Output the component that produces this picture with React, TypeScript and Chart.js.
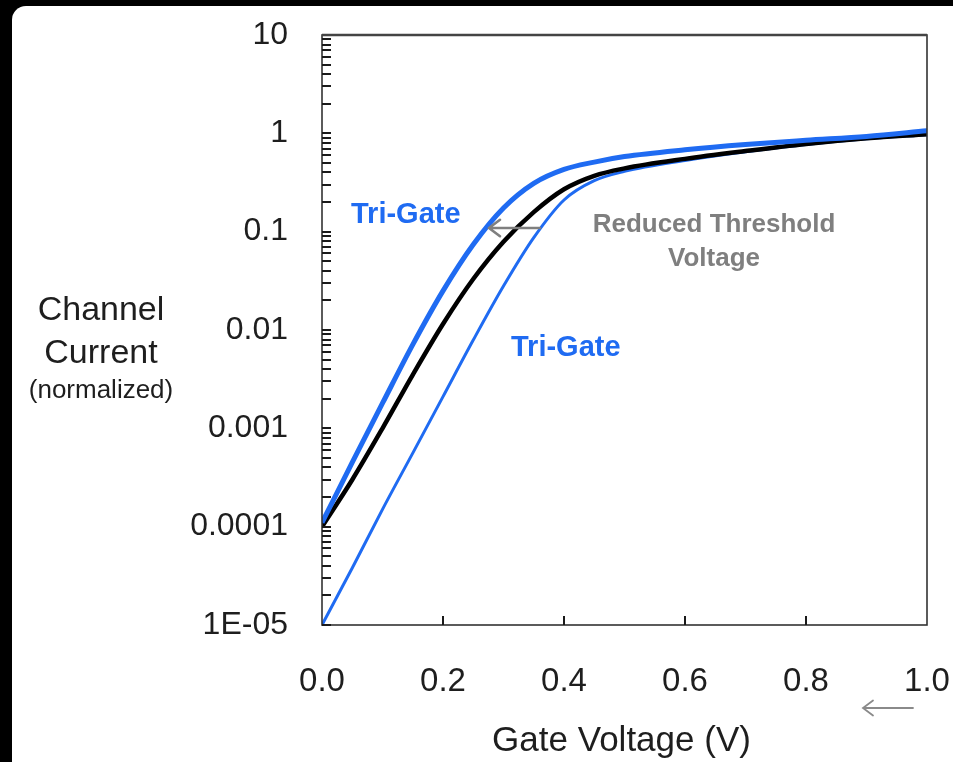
import React, { useEffect, useRef } from "react";
import { Chart, registerables } from "chart.js";

Chart.register(...registerables);

// ---- Data ----
const gateVoltage = [0, 0.05, 0.1, 0.15, 0.2, 0.25, 0.3, 0.35, 0.4, 0.45, 0.5, 0.6, 0.7, 0.8, 0.9, 1.0];
// Tri-Gate (reduced threshold voltage), thick blue
const triGateCurrent = [1.1e-4, 4.5e-4, 1.8e-3, 7.1e-3, 0.025, 0.074, 0.174, 0.31, 0.43, 0.51, 0.58, 0.68, 0.77, 0.85, 0.93, 1.06];
// Planar, black
const planarCurrent = [1.0e-4, 3.0e-4, 1.0e-3, 3.5e-3, 0.0115, 0.033, 0.079, 0.158, 0.27, 0.37, 0.44, 0.55, 0.66, 0.78, 0.89, 0.98];
// Tri-Gate (same threshold, lower leakage), thin blue
const triGateLowLeakCurrent = [1.0e-5, 3.8e-5, 1.5e-4, 5.6e-4, 2.1e-3, 7.9e-3, 0.028, 0.087, 0.21, 0.33, 0.41, 0.53, 0.65, 0.77, 0.88, 0.97];

const xTickValues = [0, 0.2, 0.4, 0.6, 0.8, 1.0];
const xTickLabels = ["0.0", "0.2", "0.4", "0.6", "0.8", "1.0"];
const yDecadeValues = [1e-5, 1e-4, 1e-3, 1e-2, 1e-1, 1, 10];
const yDecadeLabels = ["1E-05", "0.0001", "0.001", "0.01", "0.1", "1", "10"];

const FONT = "'Liberation Sans', Arial, Helvetica, sans-serif";
const BLUE = "#1f6bf2";
const GRAY = "#7f7f7f";
const TEXT = "#1e1e1e";

const PLOT_LEFT = 322;
const PLOT_TOP = 35;
const PLOT_RIGHT_PAD = 26;
const X_AXIS_HEIGHT = 137;

function toPoints(ys: number[]) {
  return gateVoltage.map((x, i) => ({ x, y: ys[i] }));
}

function drawArrowLeft(ctx: CanvasRenderingContext2D, x1: number, x2: number, y: number, color: string, w: number, head: number) {
  ctx.save();
  ctx.strokeStyle = color;
  ctx.lineWidth = w;
  ctx.lineCap = "round";
  ctx.beginPath();
  ctx.moveTo(x1, y);
  ctx.lineTo(x2, y);
  ctx.moveTo(x2 + head, y - head * 0.75);
  ctx.lineTo(x2, y);
  ctx.lineTo(x2 + head, y + head * 0.75);
  ctx.stroke();
  ctx.restore();
}

const decorPlugin = {
  id: "decor",
  afterDraw(chart: any) {
    const { ctx, chartArea } = chart;
    const xs = chart.scales.x;
    const ys = chart.scales.y;
    const { left, right, top, bottom } = chartArea;
    ctx.save();

    // frame
    ctx.strokeStyle = "#333333";
    ctx.lineWidth = 1.6;
    ctx.strokeRect(left, top, right - left, bottom - top);
    ctx.lineWidth = 2.4;
    ctx.strokeStyle = "#444";
    ctx.beginPath();
    ctx.moveTo(left, top);
    ctx.lineTo(right, top);
    ctx.stroke();

    // minor/major ticks on y axis (inside)
    ctx.strokeStyle = "#1a1a1a";
    ctx.lineWidth = 2;
    ctx.beginPath();
    for (let d = -5; d <= 0; d++) {
      for (let m = 1; m <= 9; m++) {
        const v = m * Math.pow(10, d);
        const py = Math.round(ys.getPixelForValue(v));
        ctx.moveTo(left, py);
        ctx.lineTo(left + 9, py);
      }
    }
    // x ticks (inside, pointing up)
    for (let i = 1; i < xTickValues.length - 1; i++) {
      const px = Math.round(xs.getPixelForValue(xTickValues[i]));
      ctx.moveTo(px, bottom);
      ctx.lineTo(px, bottom - 9);
    }
    ctx.stroke();

    // y axis title
    ctx.fillStyle = TEXT;
    ctx.textAlign = "center";
    ctx.textBaseline = "middle";
    ctx.font = `34px ${FONT}`;
    ctx.fillText("Channel", 101, 311);
    ctx.fillText("Current", 101, 354);
    ctx.font = `26px ${FONT}`;
    ctx.fillText("(normalized)", 101, 391);

    // x axis title
    ctx.font = `35px ${FONT}`;
    ctx.fillText("Gate Voltage (V)", (left + right) / 2 - 3, 741);

    // annotations
    ctx.font = `bold 29px ${FONT}`;
    ctx.fillStyle = BLUE;
    ctx.textAlign = "left";
    ctx.fillText("Tri-Gate", 351, 215);
    ctx.fillText("Tri-Gate", 511, 348);

    ctx.font = `bold 26px ${FONT}`;
    ctx.fillStyle = GRAY;
    ctx.textAlign = "center";
    ctx.fillText("Reduced Threshold", 714, 225);
    ctx.fillText("Voltage", 714, 259);

    drawArrowLeft(ctx, 540, 489, 228, GRAY, 2.6, 11);
    drawArrowLeft(ctx, 913, 863, 708, "#8a8a8a", 1.8, 10);

    ctx.restore();
  },
};

export default function App() {
  const canvasRef = useRef<HTMLCanvasElement | null>(null);

  useEffect(() => {
    if (!canvasRef.current) return;
    const chart = new Chart(canvasRef.current, {
      type: "scatter",
      data: {
        datasets: [
          {
            label: "Tri-Gate (reduced Vt)",
            data: toPoints(triGateCurrent),
            showLine: true,
            borderColor: BLUE,
            borderWidth: 5,
            pointRadius: 0,
            cubicInterpolationMode: "monotone",
          },
          {
            label: "Planar",
            data: toPoints(planarCurrent),
            showLine: true,
            borderColor: "#000000",
            borderWidth: 4.5,
            pointRadius: 0,
            cubicInterpolationMode: "monotone",
          },
          {
            label: "Tri-Gate (low leakage)",
            data: toPoints(triGateLowLeakCurrent),
            showLine: true,
            borderColor: BLUE,
            borderWidth: 3,
            pointRadius: 0,
            cubicInterpolationMode: "monotone",
          },
        ],
      },
      options: {
        responsive: false,
        animation: false,
        events: [],
        layout: { padding: { left: 0, top: PLOT_TOP, right: PLOT_RIGHT_PAD, bottom: 0 } },
        plugins: { legend: { display: false }, tooltip: { enabled: false } },
        scales: {
          x: {
            type: "linear",
            min: 0,
            max: 1,
            grid: { display: false, drawTicks: false },
            border: { display: false },
            ticks: {
              stepSize: 0.2,
              autoSkip: false,
              maxRotation: 0,
              padding: 37,
              color: TEXT,
              font: { family: FONT, size: 33 },
              callback: (v: any) => {
                const i = Math.round(Number(v) / 0.2);
                return xTickLabels[i] ?? "";
              },
            },
            afterFit: (scale: any) => {
              scale.height = X_AXIS_HEIGHT;
              scale.paddingLeft = 0;
              scale.paddingRight = 0;
            },
          },
          y: {
            type: "logarithmic",
            min: 1e-5,
            max: 10,
            grid: { display: false, drawTicks: false },
            border: { display: false },
            ticks: {
              autoSkip: false,
              padding: 34,
              color: TEXT,
              font: { family: FONT, size: 32 },
              callback: (v: any) => {
                const val = Number(v);
                const lg = Math.log10(val);
                if (Math.abs(lg - Math.round(lg)) > 1e-6) return "";
                const idx = yDecadeValues.findIndex((d) => Math.abs(Math.log10(d) - lg) < 1e-6);
                return idx >= 0 ? yDecadeLabels[idx] : "";
              },
            },
            afterFit: (scale: any) => {
              scale.width = PLOT_LEFT;
              scale.paddingTop = 0;
              scale.paddingBottom = 0;
            },
          },
        },
      },
      plugins: [decorPlugin],
    } as any);
    return () => chart.destroy();
  }, []);

  return (
    <div style={{ position: "fixed", left: 0, top: 0, width: 953, height: 762, background: "#000", overflow: "hidden" }}>
      <div
        style={{
          position: "absolute",
          left: 12,
          top: 6,
          right: 0,
          bottom: 0,
          background: "#ffffff",
          borderTopLeftRadius: 14,
        }}
      />
      <canvas ref={canvasRef} width={953} height={762} style={{ position: "absolute", left: 0, top: 0, width: 953, height: 762 }} />
    </div>
  );
}
